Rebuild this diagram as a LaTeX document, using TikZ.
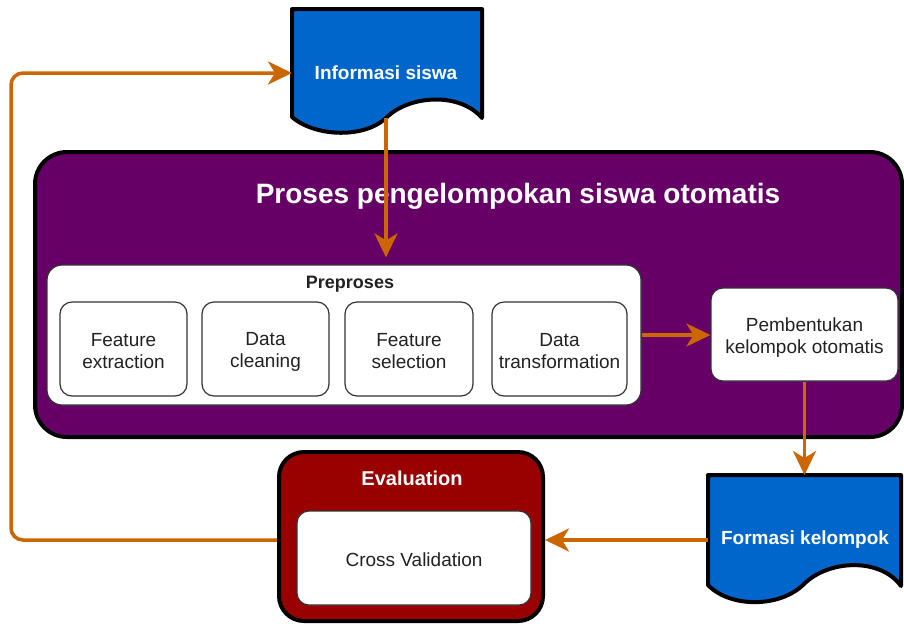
\documentclass[tikz,border=0pt]{standalone}
\usepackage{fontspec}
\setmainfont{Liberation Sans}
\usetikzlibrary{arrows.meta}
\definecolor{docblue}{HTML}{0066CC}
\definecolor{procpurple}{HTML}{660066}
\definecolor{evalred}{HTML}{990000}
\definecolor{floworange}{HTML}{CC6600}
\definecolor{txtgray}{HTML}{222222}
\newcommand{\ls}{\rule[-3pt]{0pt}{22pt}}
\tikzset{
  flow/.style={draw=floworange, line width=3.5pt, -{Stealth[length=24pt,width=23pt,inset=7pt]}},
  wbox/.style={draw=black!80, line width=1.2pt, fill=white, rounded corners=12pt, align=center,
    text=txtgray, font=\fontsize{19}{22}\selectfont, inner sep=0pt},
  doctxt/.style={text=white, font=\bfseries\fontsize{19}{22}\selectfont},
  docshape/.style={draw=black, line width=4pt, fill=docblue, line join=round},
}
\begin{document}
\begin{tikzpicture}[x=1pt,y=-1pt]
\useasboundingbox[fill=white] (0,0) rectangle (904,625);

% main process container
\node[draw=black, line width=4pt, fill=procpurple, rounded corners=32pt,
      minimum width=867pt, minimum height=285pt, inner sep=0pt] (proc) at (468.5,294.5) {};
\node[text=white, font=\bfseries\fontsize{28}{32}\selectfont] (proctitle) at (518,196) {Proses pengelompokan siswa otomatis};

% preproses group
\node[draw=black!80, line width=1.2pt, fill=white, rounded corners=15pt,
      minimum width=594pt, minimum height=140pt, inner sep=0pt] (pre) at (344,335) {};
\node[font=\bfseries\fontsize{18}{22}\selectfont, text=txtgray] (pretitle) at (350,284) {Preproses};
\node[wbox, minimum width=127pt, minimum height=94pt] (fe) at (123.5,349) {Feature\ls\\extraction\ls};
\node[wbox, minimum width=127pt, minimum height=94pt] (dc) at (265.5,349) {Data\ls\\cleaning\ls};
\node[wbox, minimum width=128pt, minimum height=94pt] (fs) at (409,349) {Feature\ls\\selection\ls};
\node[wbox, minimum width=135pt, minimum height=94pt] (dt) at (559.5,349) {Data\ls\\transformation\ls};

% pembentukan
\node[wbox, minimum width=187pt, minimum height=93pt] (pk) at (804.5,334.5) {Pembentukan\ls\\kelompok otomatis\ls};

% evaluation
\node[draw=black, line width=4pt, fill=evalred, rounded corners=25pt,
      minimum width=264pt, minimum height=169pt, inner sep=0pt] (eval) at (411,536.5) {};
\node[text=white, font=\bfseries\fontsize{20}{24}\selectfont] (evaltitle) at (412,478) {Evaluation};
\node[wbox, minimum width=234pt, minimum height=94pt] (cv) at (414,558) {Cross Validation\ls};

% document: Informasi siswa
\draw[docshape] (292,9) -- (482,9) -- (482,118)
  .. controls (460,92) and (410,95) .. (387,117)
  .. controls (365,139) and (315,137) .. (292,117) -- cycle;
\node[doctxt] (info) at (386,73) {Informasi siswa};
\coordinate (infoS) at (386,118);
\coordinate (infoW) at (292,73);

% document: Formasi kelompok
\draw[docshape] (708,475) -- (901,475) -- (901,586)
  .. controls (880,557) and (828,560) .. (804,584)
  .. controls (780,608) and (730,608) .. (708,585) -- cycle;
\node[doctxt] (form) at (805,540) {Formasi kelompok};
\coordinate (formN) at (804.5,475);
\coordinate (formW) at (708,540);

% connectors
\draw[flow, shorten >=7pt] (infoS) -- (infoS |- pre.north);
\draw[flow] (pre.east) -- (pre.east -| pk.west);
\draw[flow] (pk.south) -- (formN);
\draw[flow] (formW) -- (formW -| eval.east);
\draw[flow, rounded corners=12pt] (eval.west |- formW) -- ++(-266,0) |- (infoW);
\end{tikzpicture}
\end{document}
